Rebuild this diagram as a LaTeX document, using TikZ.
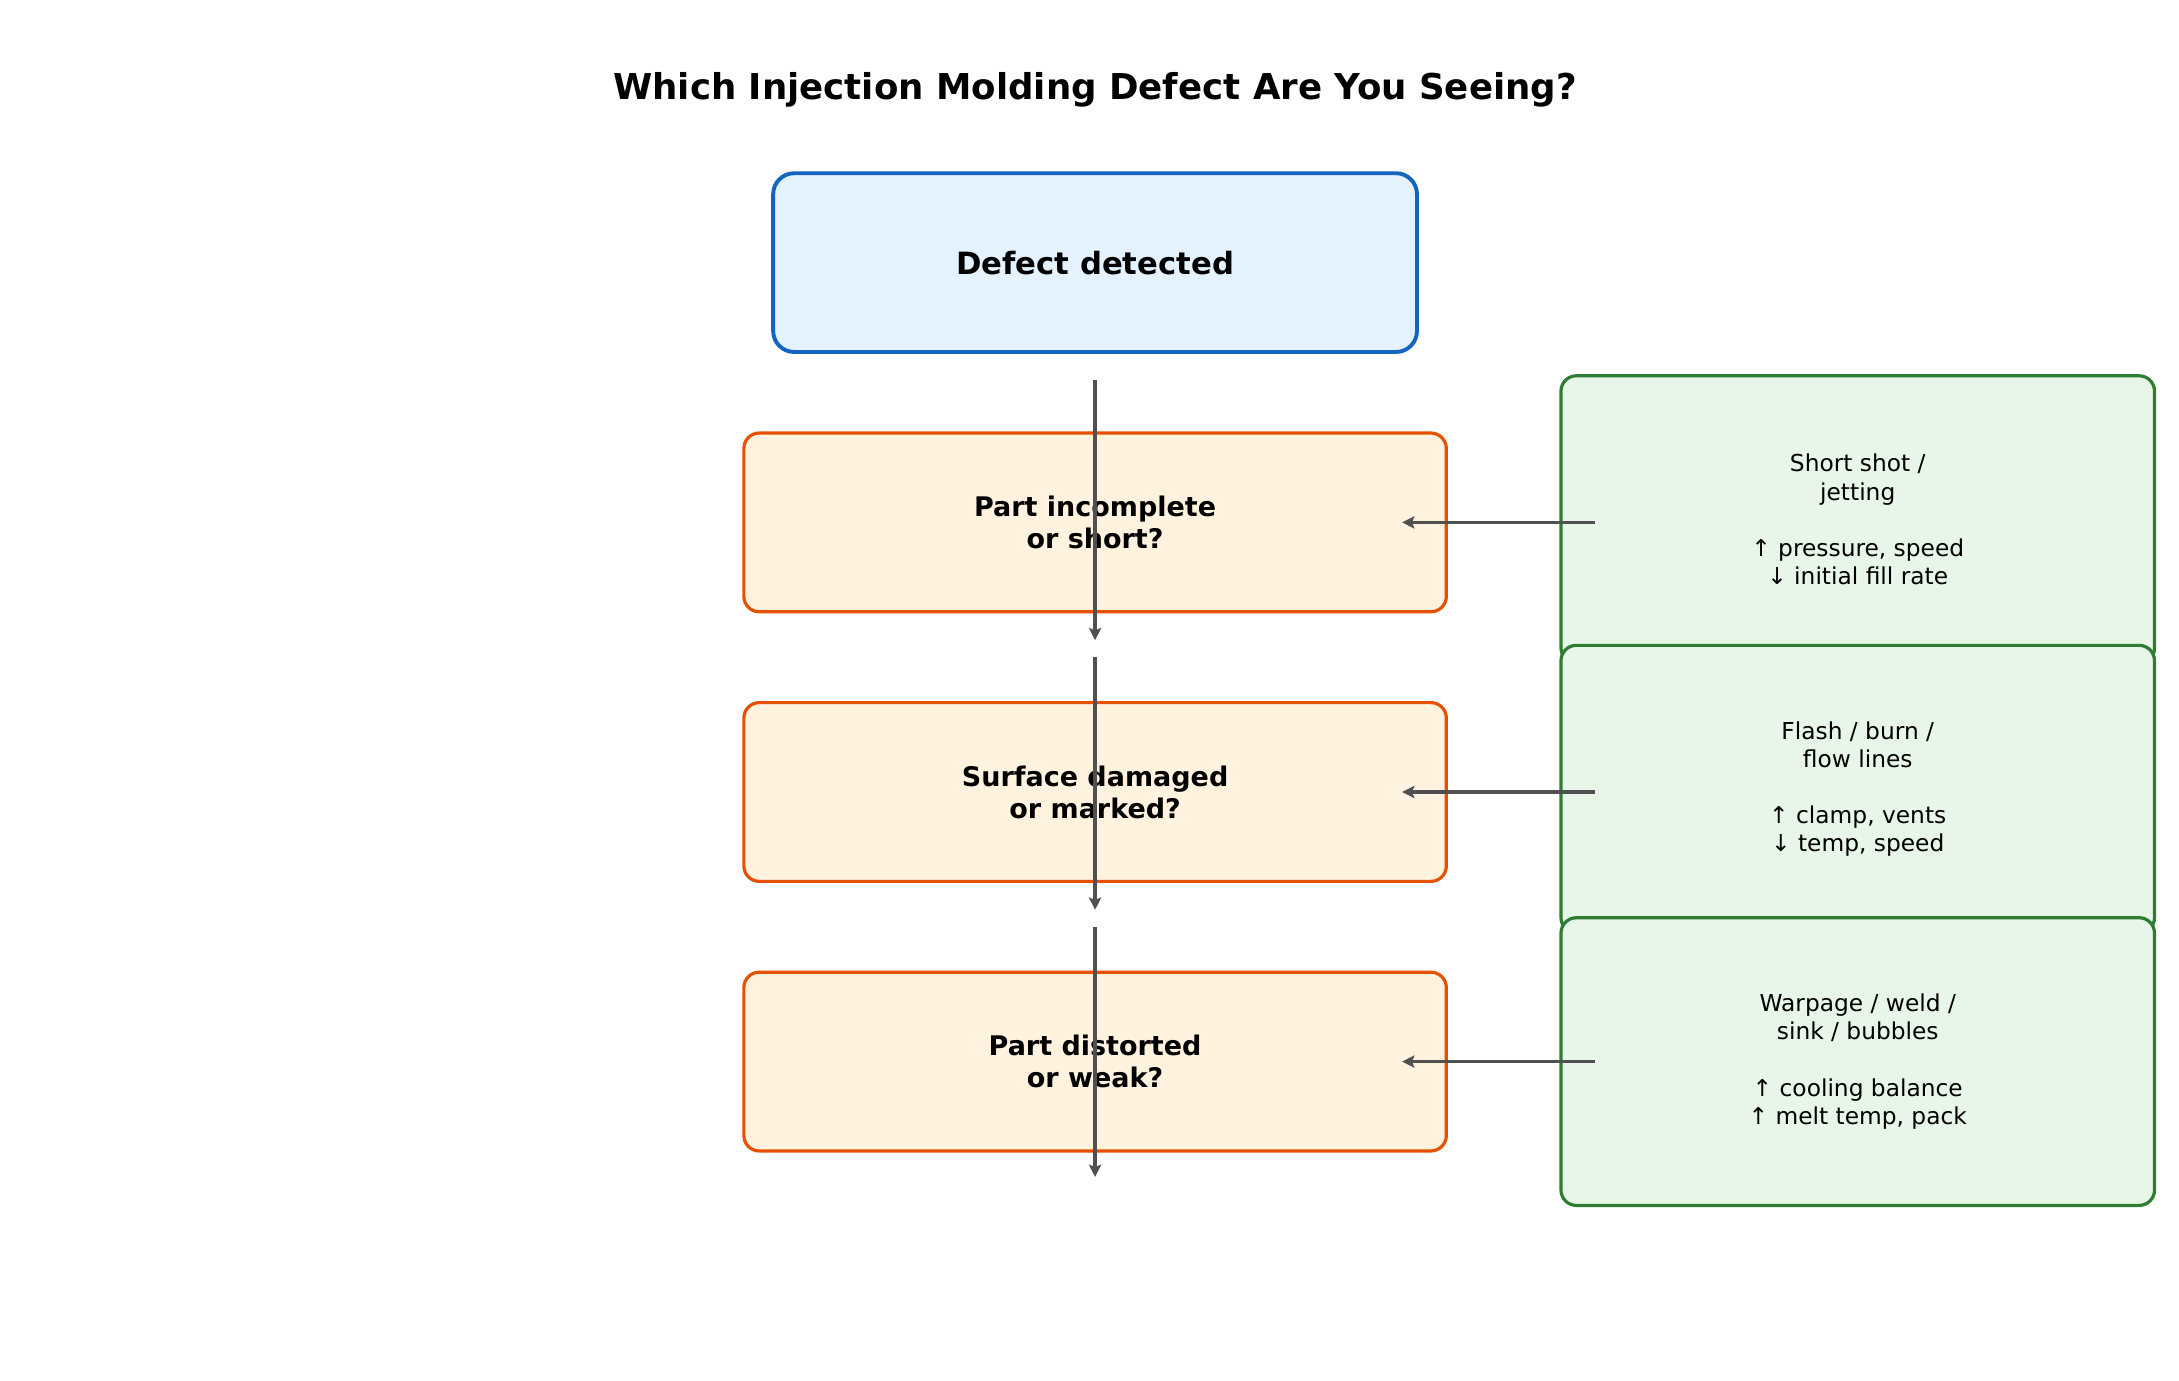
\documentclass[tikz,border=0pt]{standalone}
\usepackage{fontspec}
\setmainfont{DejaVu Sans}
\usetikzlibrary{positioning,arrows.meta}

\begin{document}
\begin{tikzpicture}
[x=0.02cm,y=-0.02cm,
 every node/.style={align=center,inner sep=0mm,outer sep=0mm},
 start/.style={rectangle,rounded corners=3mm,draw={rgb,255:red,21;green,101;blue,192},fill={rgb,255:red,227;green,242;blue,253},line width=1.6pt,minimum width=9.22cm,minimum height=2.56cm,font=\bfseries\fontsize{12.5}{15}\selectfont},
 ask/.style={rectangle,rounded corners=2.2mm,draw={rgb,255:red,230;green,81;blue,0},fill={rgb,255:red,255;green,243;blue,224},line width=1.3pt,minimum width=10.06cm,minimum height=2.56cm,font=\bfseries\fontsize{11}{13}\selectfont},
 fix/.style={rectangle,rounded corners=2.2mm,draw={rgb,255:red,46;green,125;blue,50},fill={rgb,255:red,232;green,245;blue,233},line width=1.3pt,minimum width=8.5cm,minimum height=4.12cm,font=\fontsize{9.5}{11.5}\selectfont},
 flow/.style={->,draw={rgb,255:red,80;green,80;blue,80},line width=1.3pt,>={Stealth[length=5pt,width=5pt,inset=1pt]}}]

\useasboundingbox (0,0) rectangle (1560,988);

% title
\node (title) at (784,64) {\bfseries\fontsize{14.5}{17}\selectfont Which Injection Molding Defect Are You Seeing?};

% main column
\node[start] (defect)   at (784,188) {Defect detected};
\node[ask]   (short)    at (784,374) {Part incomplete\\or short?};
\node[ask]   (surface)  at (784,567) {Surface damaged\\or marked?};
\node[ask]   (distort)  at (784,760) {Part distorted\\or weak?};

% remedies
\node[fix] (Rshort)   at (1330,372) {Short shot /\\jetting\\[1.2em]↑ pressure, speed\\↓ initial fill rate};
\node[fix] (Rsurface) at (1330,565) {Flash / burn /\\flow lines\\[1.2em]↑ clamp, vents\\↓ temp, speed};
\node[fix] (Rdistort) at (1330,760) {Warpage / weld /\\sink / bubbles\\[1.2em]↑ cooling balance\\↑ melt temp, pack};

\draw[flow] ([yshift=-48]defect.center)  -- ([yshift=-48]short.center);
\draw[flow] ([yshift=-55]short.center)   -- ([yshift=-48]surface.center);
\draw[flow] ([yshift=-55]surface.center) -- ([yshift=-47]distort.center);

\draw[flow] ([xshift=14]Rshort.west |- short.center)     -- ([xshift=-18]short.east);
\draw[flow] ([xshift=14]Rsurface.west |- surface.center) -- ([xshift=-18]surface.east);
\draw[flow] ([xshift=14]Rdistort.west |- distort.center) -- ([xshift=-18]distort.east);

\end{tikzpicture}
\end{document}
